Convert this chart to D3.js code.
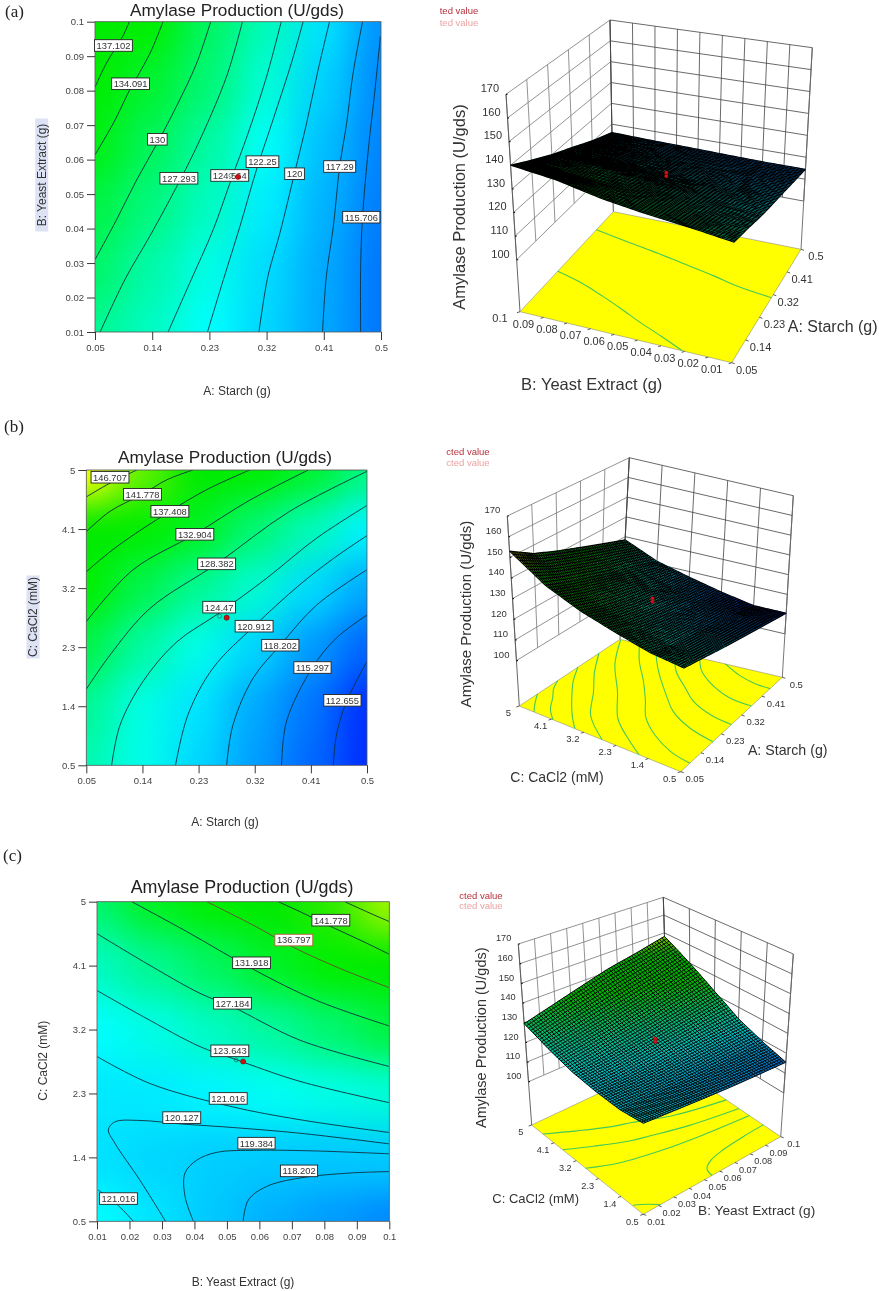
<!DOCTYPE html>
<html>
<head>
<meta charset="utf-8">
<script src="https://cdn.jsdelivr.net/npm/d3@7"></script>
<style>
  body { margin: 0; background: #fff; }
  text { font-family: "Liberation Sans", Arial, sans-serif; fill: #333; }
</style>
</head>
<body>
<div id="chart"></div>
<script>
// Axis ticks
const starchTicks = [0.05, 0.14, 0.23, 0.32, 0.41, 0.5];
const yeastTicks = [0.01, 0.02, 0.03, 0.04, 0.05, 0.06, 0.07, 0.08, 0.09, 0.1];
const cacl2Ticks = [0.5, 1.4, 2.3, 3.2, 4.1, 5];
const productionTicks = [100, 110, 120, 130, 140, 150, 160, 170];
const productionFloor = 78; // base of the 3D box

const yeastNodes = [0.01, 0.028, 0.046, 0.064, 0.082, 0.1];
const gridA = [
  [127.5, 125, 122, 119.7, 117.2, 114.5],
  [129.7, 126.3, 123.2, 120, 117.3, 114.5],
  [131.5, 128.5, 125, 121, 117.8, 114.8],
  [134, 130.3, 126.7, 122.25, 118.5, 115.2],
  [137.8, 132.5, 129, 124, 119.5, 115.5],
  [140, 135, 130, 125.5, 120.5, 116]
];
const gridB = [
  [126, 123, 119.8, 116.7, 113.7, 110.5],
  [127.5, 123.3, 120.5, 117.3, 114.5, 110.5],
  [131.2, 126.7, 123, 119.7, 116.5, 113.5],
  [135.5, 131, 127.4, 124.3, 120, 117.2],
  [142, 137.4, 133.3, 129.1, 125.6, 121.4],
  [153, 146, 141.3, 137, 132.7, 128.4]
];
const gridC = [
  [122, 120.5, 119, 117.6, 116.5, 115.5],
  [120.4, 119.8, 119.3, 119.1, 119, 119.1],
  [120.8, 120.9, 121.5, 122.5, 123.3, 124],
  [122.1, 123.4, 125.1, 127, 129.3, 131.7],
  [125.2, 127.7, 130.2, 133, 136.3, 140],
  [129.5, 133.3, 137.3, 141.4, 144.4, 148]
];

// Contour lines, [x, y] in axis units
const contoursA = [
  [[.104,.1],[.0935,.0957],[.068,.088],[.05,.081]],
  [[.157,.1],[.139,.0918],[.121,.0855],[.106,.0807],[.079,.0706],[.05,.0614]],
  [[.232,.1],[.21,.088],[.178,.0754],[.148,.0648],[.1155,.0541],[.084,.0426],[.05,.031]],
  [[.282,.1],[.257,.0841],[.215,.0657],[.184,.0541],[.139,.0387],[.097,.0252],[.058,.01]],
  [[.343,.1],[.32,.0841],[.291,.0677],[.265,.0546],[.236,.0397],[.199,.0242],[.165,.01]],
  [[.3775,.1],[.359,.088],[.33,.0715],[.304,.057],[.278,.0406],[.252,.0252],[.227,.01]],
  [[.419,.1],[.401,.086],[.383,.0706],[.364,.0561],[.341,.0387],[.322,.0261],[.308,.01]],
  [[.471,.1],[.456,.085],[.446,.0706],[.435,.058],[.425,.0406],[.414,.0261],[.408,.01]],
  [[.499,.0957],[.49,.0793],[.48,.0628],[.471,.0435],[.468,.029],[.468,.01]]
];
const contoursB = [
  [[.05,4.59],[.088,4.8],[.131,5]],
  [[.05,4.06],[.088,4.37],[.14,4.63],[.179,4.85],[.221,5]],
  [[.05,3.45],[.0986,3.83],[.184,4.37],[.243,4.7],[.312,5]],
  [[.05,2.69],[.125,3.48],[.224,4.02],[.312,4.54],[.406,5]],
  [[.05,1.66],[.088,2.18],[.152,2.89],[.259,3.57],[.376,4.37],[.5,4.98]],
  [[.0906,.5],[.104,1.11],[.141,1.78],[.195,2.38],[.263,2.82],[.339,3.35],[.419,3.96],[.5,4.46]],
  [[.193,.5],[.213,1.27],[.253,1.98],[.319,2.62],[.392,3.25],[.446,3.65],[.5,4]],
  [[.275,.5],[.285,1.11],[.3175,1.83],[.361,2.33],[.419,2.94],[.5,3.48]],
  [[.363,.5],[.371,1.17],[.4126,1.99],[.451,2.44],[.5,2.79]],
  [[.446,.5],[.451,.96],[.467,1.47],[.5,2.08]]
];
const contoursC = [
  [[.0863,5],[.093,4.86],[.1,4.72]],
  [[.0658,5],[.0725,4.86],[.082,4.65],[.091,4.46],[.1,4.26]],
  [[.0438,5],[.0581,4.67],[.0704,4.36],[.0848,4.06],[.1,3.79]],
  [[.0207,5],[.0376,4.58],[.0576,4.06],[.0776,3.61],[.1,3.25]],
  [[.01,4.55],[.0253,4.13],[.0417,3.71],[.0517,3.52],[.0725,3.05],[.1,2.68]],
  [[.01,3.75],[.0243,3.38],[.0417,2.96],[.052,2.79],[.0725,2.47],[.1,2.17]],
  [[.01,2.82],[.0263,2.44],[.0509,2.12],[.0725,1.93],[.1,1.75]],
  [[.0311,.5],[.0232,1.08],[.0155,1.6],[.0135,1.79],[.0155,1.9],[.0232,1.92],[.0361,1.87],[.052,1.82],[.0725,1.74],[.1,1.59]],
  [[.0397,.5],[.0371,.85],[.0371,1.18],[.0407,1.36],[.0468,1.47],[.0591,1.5],[.0776,1.49],[.1,1.45]],
  [[.055,.5],[.0566,.8],[.0622,.99],[.0725,1.11],[.0879,1.18],[.1,1.2]],
  [[.0104,.94],[.0166,.72],[.0212,.5]]
];

// Which contours also show on the floor of the 3D box
const floorLinesA = [2, 6];
const floorLinesB = [0, 1, 2, 3, 4, 5, 6, 7, 8, 9];
const floorLinesC = [4, 5, 6, 9, 10];

// Contour labels: text, x, y
const labelsA = [
  ["137.102",.079,.0931],["134.091",.106,.082],["130",.148,.0659],["127.293",.182,.0546],
  ["124.564",.262,.0554],["122.25",.3135,.0594],["120",.364,.0559],["117.29",.435,.058],["115.706",.469,.0433]
];
const labelsB = [
  ["146.707",.088,4.89],["141.778",.14,4.63],["137.408",.184,4.37],["132.904",.224,4.02],["128.382",.259,3.57],
  ["124.47",.263,2.91],["120.912",.319,2.62],["118.202",.361,2.33],["115.297",.4126,1.99],["112.655",.4606,1.49]
];
const labelsC = [
  ["141.778",.082,4.74],["136.797",.0706,4.46],["131.918",.0576,4.14],["127.184",.0517,3.57],["123.643",.0509,2.9],
  ["121.016",.0504,2.23],["120.127",.0361,1.96],["119.384",.0591,1.6],["118.202",.0722,1.21],["121.016",.0166,.82]
];

// Centre point of the design
const centreA = [0.275, 0.055];
const centreB = [0.275, 2.75];
const centreC = [0.055, 2.75];
const centreActual = 127;
const centrePredicted = 125.5;

const color = d3.scaleLinear()
  .domain([108, 122, 135, 143, 151])
  .range(["#0000ff", "#00ffff", "#00f000", "#00e800", "#ffff00"])
  .clamp(true);

const svg = d3.select("#chart").append("svg")
  .attr("width", 879).attr("height", 1291)
  .style("display", "block");

const root = svg.append("g").attr("filter", "url(#soft)");
const defs = svg.append("defs");
defs.append("filter").attr("id", "soft")
  .attr("filterUnits", "userSpaceOnUse")
  .attr("x", 0).attr("y", 0).attr("width", 879).attr("height", 1291)
  .attr("color-interpolation-filters", "sRGB")
  .append("feGaussianBlur").attr("stdDeviation", 0.35);
defs.append("filter").attr("id", "shade")
  .attr("filterUnits", "userSpaceOnUse")
  .attr("x", 0).attr("y", 0).attr("width", 879).attr("height", 1291)
  .attr("color-interpolation-filters", "sRGB")
  .append("feGaussianBlur").attr("stdDeviation", 18);

function drawContour(p) {
  const x = d3.scaleLinear().domain(d3.extent(p.xTicks)).range([p.left, p.right]);
  const y = d3.scaleLinear().domain(d3.extent(p.yTicks)).range([p.bottom, p.top]);
  const g = root.append("g");
  const clipId = "clip" + p.id;
  defs.append("clipPath").attr("id", clipId).append("rect")
    .attr("x", p.left).attr("y", p.top)
    .attr("width", p.right - p.left).attr("height", p.bottom - p.top);

  // Shading: cells of the read grid, softened
  const shade = g.append("g").attr("clip-path", `url(#${clipId})`)
    .append("g").attr("filter", "url(#shade)");
  const cw = (p.right - p.left) / (p.xNodes.length - 1);
  const ch = (p.bottom - p.top) / (p.yNodes.length - 1);
  const pad = 70;
  p.grid.forEach((row, j) => row.forEach((v, i) => {
    const x0 = x(p.xNodes[i]) - cw / 2 - (i === 0 ? pad : 0);
    const x1 = x(p.xNodes[i]) + cw / 2 + (i === row.length - 1 ? pad : 0);
    const y0 = y(p.yNodes[j]) - ch / 2 - (j === p.grid.length - 1 ? pad : 0);
    const y1 = y(p.yNodes[j]) + ch / 2 + (j === 0 ? pad : 0);
    shade.append("rect")
      .attr("x", x0).attr("y", y0)
      .attr("width", x1 - x0 + 0.5).attr("height", y1 - y0 + 0.5)
      .attr("fill", color(v));
  }));

  // Contours
  const line = d3.line().x(d => x(d[0])).y(d => y(d[1])).curve(d3.curveCatmullRom.alpha(0.5));
  g.append("g").attr("clip-path", `url(#${clipId})`)
    .selectAll("path").data(p.contours).enter().append("path")
    .attr("d", line)
    .attr("fill", "none")
    .attr("stroke", (d, i) => i === p.redLine ? "#6b4a30" : "#0c3040")
    .attr("stroke-width", 0.9);

  g.append("rect")
    .attr("x", p.left).attr("y", p.top)
    .attr("width", p.right - p.left).attr("height", p.bottom - p.top)
    .attr("fill", "none").attr("stroke", "#555").attr("stroke-width", 0.8);

  // Axes
  const yAxis = g.append("g").attr("transform", `translate(${p.left},0)`)
    .call(d3.axisLeft(y).tickValues(p.yTicks).tickSize(8).tickPadding(3).tickFormat(d => String(d)));
  const xAxis = g.append("g").attr("transform", `translate(0,${p.bottom})`)
    .call(d3.axisBottom(x).tickValues(p.xTicks).tickSize(8).tickPadding(4).tickFormat(d => String(d)));
  [xAxis, yAxis].forEach(a => {
    a.select(".domain").remove();
    a.selectAll("line").attr("stroke", "#222").attr("stroke-width", 0.9);
    a.selectAll("text").style("font-family", '"Liberation Sans"').style("font-size", "9.5px").style("fill", "#444");
  });

  // Labels
  const lab = g.append("g").selectAll("g").data(p.labels).enter().append("g")
    .attr("transform", d => `translate(${x(d[1])},${y(d[2])})`);
  lab.append("rect").attr("fill", "#fff")
    .attr("stroke", d => d[0] === p.redLabel ? "#b8603a" : "#222").attr("stroke-width", 0.9);
  lab.append("text").text(d => d[0])
    .attr("text-anchor", "middle").attr("dy", "0.36em")
    .style("font-size", "9.4px").style("fill", "#333");
  lab.each(function () {
    const n = d3.select(this);
    const w = n.select("text").node().getComputedTextLength() + 4;
    n.select("rect").attr("x", -w / 2).attr("y", -5.8).attr("width", w).attr("height", 11.6);
  });

  // Centre point
  g.append("circle").attr("cx", x(p.centre[0]) - 7).attr("cy", y(p.centre[1]) - 1.5).attr("r", 2)
    .attr("fill", "none").attr("stroke", "#2b6a5a").attr("stroke-width", 0.7);
  g.append("circle").attr("cx", x(p.centre[0])).attr("cy", y(p.centre[1])).attr("r", 2.6)
    .attr("fill", "#d40d12").attr("stroke", "#501010").attr("stroke-width", 0.5);

  // Titles
  g.append("text").text("Amylase Production (U/gds)")
    .attr("x", p.titleX).attr("y", p.titleY).attr("text-anchor", "middle").attr("dy", "0.35em")
    .style("font-size", p.titleSize + "px").style("fill", "#222");
  g.append("text").text(p.xTitle)
    .attr("x", p.xTitleX).attr("y", p.xTitleY).attr("text-anchor", "middle").attr("dy", "0.35em")
    .style("font-size", "12px");
  if (p.yHighlight) {
    g.append("rect").attr("x", p.yTitleX - 6.5).attr("y", p.yTitleY - p.yHighlight / 2)
      .attr("width", 13).attr("height", p.yHighlight).attr("fill", "#dde2f4");
  }
  g.append("text").text(p.yTitle)
    .attr("transform", `translate(${p.yTitleX},${p.yTitleY}) rotate(-90)`)
    .attr("text-anchor", "middle").attr("dy", "0.35em")
    .style("font-size", "12px");
  g.append("text").text(p.tag).attr("x", p.tagX).attr("y", p.tagY).attr("dy", "0.35em")
    .style("font-family", '"Liberation Serif"').style("font-size", "17px").style("fill", "#222");
}

function drawSurface(p) {
  const u = d3.scaleLinear().domain(d3.extent(p.xTicks)).range([0, 1]);
  const v = d3.scaleLinear().domain(d3.extent(p.yTicks)).range([0, 1]);
  const w = d3.scaleLinear().domain([productionFloor, 170]).range([0, 1]);
  const f = p.floor, t = p.roof;
  const mix = d3.interpolateNumber;
  const bil = (c, a, b) => {
    const lo = [mix(c.front[0], c.right[0])(a), mix(c.front[1], c.right[1])(a)];
    const hi = [mix(c.left[0], c.back[0])(a), mix(c.left[1], c.back[1])(a)];
    return [mix(lo[0], hi[0])(b), mix(lo[1], hi[1])(b)];
  };
  const project = (xv, yv, zv) => {
    const a = bil(f, u(xv), v(yv)), b = bil(t, u(xv), v(yv));
    return [mix(a[0], b[0])(w(zv)), mix(a[1], b[1])(w(zv))];
  };
  const g = root.append("g");
  const path = d3.line();
  const xMin = d3.min(p.xTicks), xMax = d3.max(p.xTicks);
  const yMin = d3.min(p.yTicks), yMax = d3.max(p.yTicks);
  const wall = (pts, col, sw) => g.append("path").attr("d", path(pts)).attr("fill", "none")
    .attr("stroke", col).attr("stroke-width", sw);

  // Walls
  p.xTicks.forEach(d => wall([project(d, yMax, 100), project(d, yMax, 170)], "#777", 0.8));
  p.yTicks.forEach(d => wall([project(xMax, d, 100), project(xMax, d, 170)], "#444", 0.8));
  productionTicks.forEach(z => {
    wall([project(xMin, yMax, z), project(xMax, yMax, z)], "#777", 0.8);
    wall([project(xMax, yMax, z), project(xMax, yMin, z)], "#444", 0.8);
  });
  wall([project(xMin, yMax, productionFloor), project(xMin, yMax, 170)], "#555", 0.9);
  wall([project(xMax, yMax, productionFloor), project(xMax, yMax, 170)], "#444", 0.9);
  wall([project(xMax, yMin, productionFloor), project(xMax, yMin, 170)], "#666", 0.9);

  // Floor with contours
  g.append("path")
    .attr("d", path([f.front, f.right, f.back, f.left]) + "Z")
    .attr("fill", "#ffff00").attr("stroke", "#777").attr("stroke-width", 0.5);
  const floorLine = d3.line().curve(d3.curveCatmullRom.alpha(0.5));
  p.floorLines.forEach(i => {
    g.append("path")
      .attr("d", floorLine(p.contours[i].map(d => project(d[0], d[1], productionFloor))))
      .attr("fill", "none").attr("stroke", "#45c85a").attr("stroke-width", 1.1);
  });

  // Surface: coloured cells with a black mesh over them
  const ix = d3.scaleLinear().domain(p.xNodes).range(d3.range(p.xNodes.length));
  const iy = d3.scaleLinear().domain(p.yNodes).range(d3.range(p.yNodes.length));
  const response = (xv, yv) => {
    const a = ix(xv), b = iy(yv);
    const i = Math.min(Math.floor(a), p.xNodes.length - 2), j = Math.min(Math.floor(b), p.yNodes.length - 2);
    const s = a - i, r = b - j;
    return mix(mix(p.grid[j][i], p.grid[j][i + 1])(s), mix(p.grid[j + 1][i], p.grid[j + 1][i + 1])(s))(r);
  };
  const n = 56;
  const sx = d3.scaleLinear().domain([0, n]).range([xMin, xMax]);
  const sy = d3.scaleLinear().domain([0, n]).range([yMin, yMax]);
  const at = (i, j) => project(sx(i), sy(j), response(sx(i), sy(j)));
  const patches = {};
  d3.range(n).forEach(i => d3.range(n).forEach(j => {
    const col = d3.rgb(color(response(sx(i + 0.5), sy(j + 0.5)))).darker(0.8).formatHex();
    patches[col] = (patches[col] || "") + path([at(i, j), at(i + 1, j), at(i + 1, j + 1), at(i, j + 1)]) + "Z";
  }));
  Object.keys(patches).forEach(col => {
    g.append("path").attr("d", patches[col]).attr("fill", col)
      .attr("stroke", col).attr("stroke-width", 0.3);
  });
  let mesh = "";
  d3.range(n + 1).forEach(k => {
    mesh += path(d3.range(n + 1).map(j => at(k, j)));
    mesh += path(d3.range(n + 1).map(i => at(i, k)));
  });
  g.append("path").attr("d", mesh).attr("fill", "none")
    .attr("stroke", "#000").attr("stroke-width", p.meshWidth);

  // Centre point, actual above predicted
  [centreActual, centrePredicted].forEach(z => {
    const c = project(p.centre[0], p.centre[1], z);
    g.append("circle").attr("cx", c[0]).attr("cy", c[1]).attr("r", 1.9)
      .attr("fill", "#d6101a").attr("stroke", "#600").attr("stroke-width", 0.3);
  });

  // Tick labels
  const size = p.tickSize + "px";
  productionTicks.forEach(z => {
    const c = project(xMin, yMax, z);
    g.append("text").text(z).attr("x", c[0] - 7).attr("y", c[1] - 6).attr("text-anchor", "end")
      .attr("dy", "0.35em").style("font-size", size);
    g.append("path").attr("d", path([c, [c[0] + 1.5, c[1]]])).attr("stroke", "#111").attr("stroke-width", 1.2);
  });
  p.yTicks.forEach(d => {
    const c = project(xMin, d, productionFloor);
    g.append("text").text(d).attr("x", c[0] + p.yLabel[0]).attr("y", c[1] + p.yLabel[1]).attr("text-anchor", "middle")
      .attr("dy", "0.35em").style("font-size", size);
    g.append("path").attr("d", path([c, [c[0] - 3, c[1] + 1]])).attr("stroke", "#333").attr("stroke-width", 0.8);
  });
  p.xTicks.forEach(d => {
    const c = project(d, yMin, productionFloor);
    g.append("text").text(d).attr("x", c[0] + p.xLabel[0]).attr("y", c[1] + p.xLabel[1]).attr("text-anchor", "middle")
      .attr("dy", "0.35em").style("font-size", size);
    g.append("path").attr("d", path([c, [c[0] + 3, c[1] + 1]])).attr("stroke", "#333").attr("stroke-width", 0.8);
  });

  // Axis titles and the cropped legend
  g.append("text").text("Amylase Production (U/gds)")
    .attr("transform", `translate(${p.zTitle[0]},${p.zTitle[1]}) rotate(-90)`)
    .attr("text-anchor", "middle").attr("dy", "0.35em")
    .style("font-size", p.zTitle[2] + "px");
  [p.xTitle, p.yTitle].forEach(d => {
    g.append("text").text(d[0]).attr("x", d[1]).attr("y", d[2]).attr("text-anchor", "middle")
      .attr("dy", "0.35em").style("font-size", d[3] + "px");
  });
  g.append("text").text(p.legend).attr("x", p.legendX).attr("y", p.legendY[0]).attr("text-anchor", "middle")
    .attr("dy", "0.35em").style("font-size", "9.5px").style("fill", "#b5303c");
  g.append("text").text(p.legend).attr("x", p.legendX).attr("y", p.legendY[1]).attr("text-anchor", "middle")
    .attr("dy", "0.35em").style("font-size", "9.5px").style("fill", "#eba3a3");
}

// Panel (a)
drawContour({
  id: "a", tag: "(a)", tagX: 5, tagY: 11,
  left: 95, right: 381, top: 21.7, bottom: 332,
  xTicks: starchTicks, yTicks: yeastTicks, xNodes: starchTicks, yNodes: yeastNodes,
  grid: gridA, contours: contoursA, labels: labelsA, centre: centreA,
  titleX: 237, titleY: 9.5, titleSize: 17.2,
  xTitle: "A: Starch (g)", xTitleX: 237, xTitleY: 391,
  yTitle: "B: Yeast Extract (g)", yTitleX: 41.7, yTitleY: 175, yHighlight: 113
});
drawSurface({
  xTicks: starchTicks, yTicks: yeastTicks, xNodes: starchTicks, yNodes: yeastNodes,
  grid: gridA, contours: contoursA, floorLines: floorLinesA, centre: centreA, meshWidth: 1.1,
  floor: { front: [731.7, 362.7], right: [801, 249.3], back: [613.3, 211.7], left: [520, 311.7] },
  roof: { front: [736, 138.7], right: [812.3, 47.7], back: [610, 20], left: [506, 94.3] },
  tickSize: 11, yLabel: [-20, 6.5], xLabel: [15, 7],
  zTitle: [459, 207, 16.5],
  xTitle: ["A: Starch (g)", 832.7, 326.7, 16], yTitle: ["B: Yeast Extract (g)", 591.7, 384, 16.5],
  legend: "ted value", legendX: 459, legendY: [11, 23]
});

// Panel (b)
drawContour({
  id: "b", tag: "(b)", tagX: 4, tagY: 426,
  left: 86.3, right: 367, top: 470, bottom: 765.3,
  xTicks: starchTicks, yTicks: cacl2Ticks, xNodes: starchTicks, yNodes: cacl2Ticks,
  grid: gridB, contours: contoursB, labels: labelsB, centre: centreB,
  titleX: 225, titleY: 457, titleSize: 17.2,
  xTitle: "A: Starch (g)", xTitleX: 225, xTitleY: 821.7,
  yTitle: "C: CaCl2 (mM)", yTitleX: 33, yTitleY: 617, yHighlight: 83
});
drawSurface({
  xTicks: starchTicks, yTicks: cacl2Ticks, xNodes: starchTicks, yNodes: cacl2Ticks,
  grid: gridB, contours: contoursB, floorLines: floorLinesB, centre: centreB, meshWidth: 1.05,
  floor: { front: [680.7, 771.7], right: [782.3, 677.3], back: [620, 639.3], left: [519.3, 706] },
  roof: { front: [687, 573], right: [793.3, 495.7], back: [629.3, 457.7], left: [507.3, 516] },
  tickSize: 9.5, yLabel: [-11, 6.5], xLabel: [14, 7],
  zTitle: [466, 614, 15],
  xTitle: ["A: Starch (g)", 787.7, 750, 14.2], yTitle: ["C: CaCl2 (mM)", 557, 776.7, 14],
  legend: "cted value", legendX: 468, legendY: [452, 463]
});

// Panel (c)
drawContour({
  id: "c", tag: "(c)", tagX: 3, tagY: 855,
  left: 97, right: 389.3, top: 901.7, bottom: 1221.3,
  xTicks: yeastTicks, yTicks: cacl2Ticks, xNodes: yeastNodes, yNodes: cacl2Ticks,
  grid: gridC, contours: contoursC, labels: labelsC, centre: centreC, redLine: 2, redLabel: "136.797",
  titleX: 242, titleY: 887, titleSize: 17.9,
  xTitle: "B: Yeast Extract (g)", xTitleX: 243, xTitleY: 1281.7,
  yTitle: "C: CaCl2 (mM)", yTitleX: 43, yTitleY: 1060.7
});
drawSurface({
  xTicks: yeastTicks, yTicks: cacl2Ticks, xNodes: yeastNodes, yNodes: cacl2Ticks,
  grid: gridC, contours: contoursC, floorLines: floorLinesC, centre: centreC, meshWidth: 0.95,
  floor: { front: [643.3, 1214.3], right: [780.7, 1136.7], back: [668.3, 1060.7], left: [531.7, 1125] },
  roof: { front: [643.3, 1024], right: [793.3, 954], back: [663.3, 897.3], left: [518.3, 944] },
  tickSize: 9.2, yLabel: [-11, 7], xLabel: [13, 7],
  zTitle: [481, 1037.7, 14.5],
  xTitle: ["B: Yeast Extract (g)", 756.7, 1210.7, 13.7], yTitle: ["C: CaCl2 (mM)", 535.7, 1198.3, 13],
  legend: "cted value", legendX: 481, legendY: [896, 906]
});
</script>
</body>
</html>
